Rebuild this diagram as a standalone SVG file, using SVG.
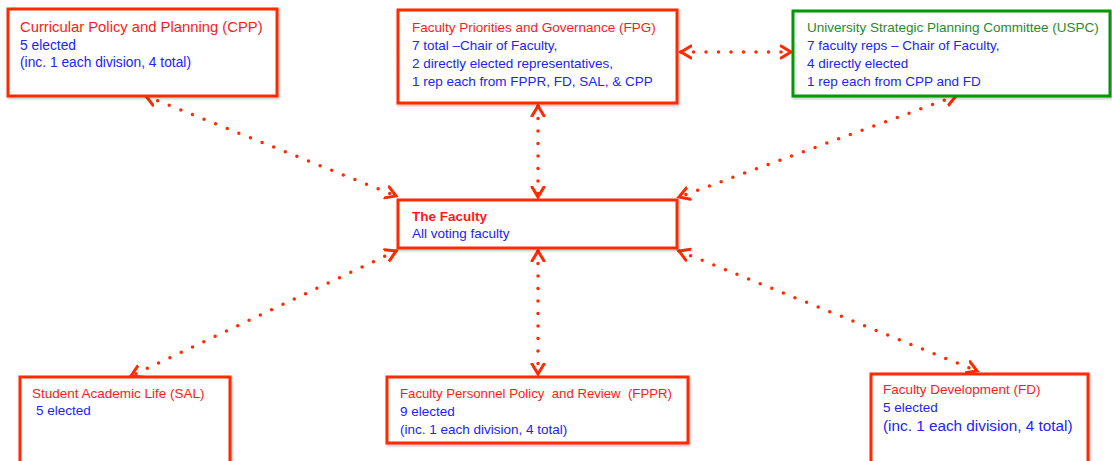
<svg xmlns="http://www.w3.org/2000/svg" width="1112" height="461" viewBox="0 0 1112 461">
<style>
.box{fill:#fff;stroke:#ff2a00;stroke-width:3;filter:url(#sh)}
.gbox{fill:#fff;stroke:#009900;stroke-width:3;filter:url(#sh)}
text{font-family:"Liberation Sans",Arial,sans-serif;font-size:13.5px}
.t{fill:#ff1a1a}
.g{fill:#2a8a2a}
.b{fill:#2222ff}
.bold{font-weight:bold}
.con{fill:none;stroke:#ff2a00;stroke-width:3.5;stroke-linecap:round;stroke-dasharray:0 12.5}
</style>
<defs>
<filter id="sh" x="-5%" y="-10%" width="110%" height="125%">
<feDropShadow dx="1" dy="1.5" stdDeviation="1" flood-color="#000" flood-opacity="0.25"/>
</filter>
<marker id="ah" markerUnits="userSpaceOnUse" markerWidth="16" markerHeight="16" refX="11" refY="7" orient="auto-start-reverse" viewBox="0 0 16 14">
<path d="M1,1 L11,7 L1,13" fill="none" stroke="#ff2a00" stroke-width="3" stroke-linecap="round"/>
</marker>
</defs>
<g id="connectors">
<line class="con" x1="146" y1="96" x2="396" y2="196" marker-start="url(#ah)" marker-end="url(#ah)"/>
<line class="con" x1="538" y1="106" x2="538" y2="197" marker-start="url(#ah)" marker-end="url(#ah)"/>
<line class="con" x1="681" y1="52" x2="791" y2="52" marker-start="url(#ah)" marker-end="url(#ah)"/>
<line class="con" x1="956" y1="96" x2="679" y2="197" marker-start="url(#ah)" marker-end="url(#ah)"/>
<line class="con" x1="396" y1="251" x2="131" y2="376" marker-start="url(#ah)" marker-end="url(#ah)"/>
<line class="con" x1="538" y1="251" x2="538" y2="374" marker-start="url(#ah)" marker-end="url(#ah)"/>
<line class="con" x1="679" y1="251" x2="977" y2="371" marker-start="url(#ah)" marker-end="url(#ah)"/>
</g>
<g id="cpp">
<rect class="box" x="8" y="9" width="269" height="87"/>
<text x="20" y="32" class="t" style="font-size:14.8px">Curricular Policy and Planning (CPP)</text>
<text x="20" y="50" class="b" style="font-size:13.8px">5 elected</text>
<text x="20" y="67" class="b" style="font-size:13.8px">(inc. 1 each division, 4 total)</text>
</g>
<g id="fpg">
<rect class="box" x="398" y="10" width="279" height="93"/>
<text x="412" y="32" class="t">Faculty Priorities and Governance (FPG)</text>
<text x="412" y="50" class="b">7 total –Chair of Faculty,</text>
<text x="412" y="68" class="b">2 directly elected representatives,</text>
<text x="412" y="86" class="b">1 rep each from FPPR, FD, SAL, &amp; CPP</text>
</g>
<g id="uspc">
<rect class="gbox" x="793" y="11" width="317" height="85"/>
<text x="807" y="32" class="g">University Strategic Planning Committee (USPC)</text>
<text x="807" y="50" class="b">7 faculty reps – Chair of Faculty,</text>
<text x="807" y="68" class="b">4 directly elected</text>
<text x="807" y="86" class="b">1 rep each from CPP and FD</text>
</g>
<g id="faculty">
<rect class="box" x="398" y="200" width="279" height="48"/>
<text x="412" y="221" class="t bold">The Faculty</text>
<text x="412" y="238" class="b">All voting faculty</text>
</g>
<g id="sal">
<rect class="box" x="20" y="377" width="210" height="90"/>
<text x="32" y="398" class="t">Student Academic Life (SAL)</text>
<text x="36" y="415" class="b">5 elected</text>
</g>
<g id="fppr">
<rect class="box" x="387" y="377" width="301" height="66"/>
<text x="400" y="398" class="t" style="white-space:pre;font-size:13.2px">Faculty Personnel Policy  and Review  (FPPR)</text>
<text x="400" y="416" class="b">9 elected</text>
<text x="400" y="434" class="b">(inc. 1 each division, 4 total)</text>
</g>
<g id="fd">
<rect class="box" x="871" y="374" width="217" height="93"/>
<text x="883" y="394" class="t">Faculty Development (FD)</text>
<text x="883" y="412" class="b">5 elected</text>
<text x="883" y="431" class="b" style="font-size:15.3px">(inc. 1 each division, 4 total)</text>
</g>
</svg>
